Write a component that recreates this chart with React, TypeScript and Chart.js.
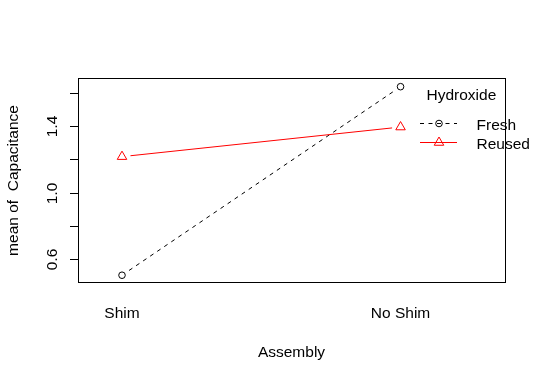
import React, { useEffect, useRef } from "react";
import { Chart, registerables } from "chart.js";

Chart.register(...registerables);

// ---- data ----
const categories = ["Shim", "No Shim"];
const categoryPositions = [1, 2];
const seriesNames = ["Fresh", "Reused"];
const freshMeans = [0.5, 1.64];
const reusedMeans = [1.217, 1.396];
const yTickValues = [0.6, 0.8, 1.0, 1.2, 1.4, 1.6];
const yTickLabels = ["0.6", "", "1.0", "", "1.4", ""];
const legendTitle = "Hydroxide";
const xTitle = "Assembly";
const yTitle = "mean of  Capacitance";

const FONT = '15.5px "Liberation Sans", Arial, sans-serif';
const GAP = 8.5;

function drawCircle(ctx: CanvasRenderingContext2D, x: number, y: number, r: number, color: string) {
  ctx.save();
  ctx.strokeStyle = color;
  ctx.lineWidth = 1;
  ctx.setLineDash([]);
  ctx.beginPath();
  ctx.arc(x, y, r, 0, Math.PI * 2);
  ctx.stroke();
  ctx.restore();
}

function drawTriangle(ctx: CanvasRenderingContext2D, x: number, y: number, r: number, color: string) {
  ctx.save();
  ctx.strokeStyle = color;
  ctx.lineWidth = 1;
  ctx.setLineDash([]);
  ctx.beginPath();
  ctx.moveTo(x, y - r);
  ctx.lineTo(x + r * 0.866, y + r * 0.5);
  ctx.lineTo(x - r * 0.866, y + r * 0.5);
  ctx.closePath();
  ctx.stroke();
  ctx.restore();
}

const rStylePlugin = {
  id: "rStyle",
  beforeDatasetsDraw(chart: any) {
    const ctx: CanvasRenderingContext2D = chart.ctx;
    chart.data.datasets.forEach((ds: any, i: number) => {
      const pts = chart.getDatasetMeta(i).data;
      ctx.save();
      ctx.strokeStyle = ds.borderColor;
      ctx.lineWidth = 1;
      ctx.setLineDash(ds.rDash || []);
      for (let k = 0; k < pts.length - 1; k++) {
        const a = pts[k];
        const b = pts[k + 1];
        const dx = b.x - a.x;
        const dy = b.y - a.y;
        const len = Math.hypot(dx, dy);
        const ux = dx / len;
        const uy = dy / len;
        ctx.beginPath();
        ctx.moveTo(a.x + ux * GAP, a.y + uy * GAP);
        ctx.lineTo(b.x - ux * GAP, b.y - uy * GAP);
        ctx.stroke();
      }
      ctx.restore();
    });
  },
  afterDraw(chart: any) {
    const ctx: CanvasRenderingContext2D = chart.ctx;
    const area = chart.chartArea;
    const xs = chart.scales.x;
    const ys = chart.scales.y;
    ctx.save();
    ctx.strokeStyle = "#000";
    ctx.fillStyle = "#000";
    ctx.lineWidth = 1;
    ctx.setLineDash([]);
    // box
    ctx.strokeRect(area.left + 0.5, area.top + 0.5, area.right - area.left, area.bottom - area.top - 1);
    // y ticks
    ctx.font = FONT;
    yTickValues.forEach((v, i) => {
      const y = Math.round(ys.getPixelForValue(v)) + 0.5;
      ctx.beginPath();
      ctx.moveTo(area.left - 8, y);
      ctx.lineTo(area.left, y);
      ctx.stroke();
      if (yTickLabels[i]) {
        ctx.save();
        ctx.translate(area.left - 21.5, y);
        ctx.rotate(-Math.PI / 2);
        ctx.textAlign = "center";
        ctx.textBaseline = "alphabetic";
        ctx.fillText(yTickLabels[i], 0, 0);
        ctx.restore();
      }
    });
    // x labels
    ctx.textAlign = "center";
    ctx.textBaseline = "alphabetic";
    categories.forEach((c, i) => {
      ctx.fillText(c, xs.getPixelForValue(categoryPositions[i]), area.bottom + 34.5);
    });
    // titles
    ctx.fillText(xTitle, (area.left + area.right) / 2, area.bottom + 74);
    ctx.save();
    ctx.translate(18, (area.top + area.bottom) / 2);
    ctx.rotate(-Math.PI / 2);
    ctx.fillText(yTitle, 0, 0);
    ctx.restore();
    // legend
    ctx.textAlign = "left";
    ctx.fillText(legendTitle, 426.5, 100);
    const ds = chart.data.datasets;
    const rows = [123.5, 142.5];
    rows.forEach((ly, i) => {
      const d = ds[i];
      ctx.save();
      ctx.strokeStyle = d.borderColor;
      ctx.setLineDash(d.rDash || []);
      ctx.beginPath();
      ctx.moveTo(420, ly);
      ctx.lineTo(457, ly);
      ctx.stroke();
      ctx.restore();
      if (d.pointStyle === "triangle") drawTriangle(ctx, 439, ly, d.pointRadius, d.borderColor);
      else drawCircle(ctx, 439, ly, d.pointRadius, d.borderColor);
      ctx.fillStyle = "#000";
      ctx.fillText(seriesNames[i], 476.5, ly + 6.5);
    });
    ctx.restore();
  },
};

export default function App() {
  const ref = useRef<HTMLCanvasElement | null>(null);
  useEffect(() => {
    document.body.style.margin = "0";
    const canvas = ref.current!;
    const chart = new Chart(canvas, {
      type: "line",
      data: {
        datasets: [
          {
            label: seriesNames[0],
            data: categoryPositions.map((x, i) => ({ x, y: freshMeans[i] })),
            borderColor: "#000000",
            backgroundColor: "rgba(0,0,0,0)",
            pointStyle: "circle",
            pointRadius: 3.3,
            pointBorderWidth: 1,
            pointBackgroundColor: "rgba(0,0,0,0)",
            pointBorderColor: "#000000",
            showLine: false,
            rDash: [4, 4.5],
          } as any,
          {
            label: seriesNames[1],
            data: categoryPositions.map((x, i) => ({ x, y: reusedMeans[i] })),
            borderColor: "#FF0000",
            backgroundColor: "rgba(0,0,0,0)",
            pointStyle: "triangle",
            pointRadius: 5.5,
            pointBorderWidth: 1,
            pointBackgroundColor: "rgba(0,0,0,0)",
            pointBorderColor: "#FF0000",
            showLine: false,
            rDash: [],
          } as any,
        ],
      },
      options: {
        responsive: false,
        animation: false,
        devicePixelRatio: 1,
        layout: { padding: { left: 78, top: 78, right: 41, bottom: 98 } },
        scales: {
          x: { type: "linear", min: 0.842, max: 2.375, display: false },
          y: { type: "linear", min: 0.453, max: 1.6925, display: false },
        },
        plugins: {
          legend: { display: false },
          tooltip: { enabled: false },
        },
      },
      plugins: [rStylePlugin],
    });
    return () => chart.destroy();
  }, []);
  return (
    <div style={{ position: "fixed", left: 0, top: 0, width: 546, height: 381, background: "#fff" }}>
      <canvas ref={ref} width={546} height={381} />
    </div>
  );
}
